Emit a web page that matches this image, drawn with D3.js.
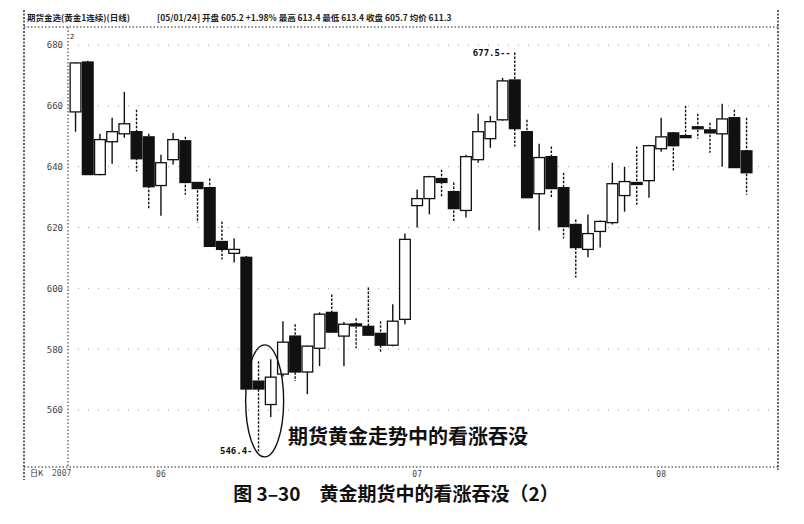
<!DOCTYPE html>
<html><head><meta charset="utf-8">
<script src="https://cdn.jsdelivr.net/npm/d3@7"></script>
<style>body{margin:0;background:#fff}</style>
</head><body>
<svg id="c" width="804" height="524"></svg>
<script>
const openV  = [658,674.4,637.4,648.2,650.8,651.5,649.8,633.8,642.3,648.5,634.8,633.1,615.4,611.5,610.2,569.5,561.8,571.8,584.3,572.5,580.3,592.1,584.3,588.3,587.5,585.2,581.3,589.8,627.2,629.5,636.1,631.8,625.6,642.3,649.2,655.4,668.5,651.5,631.1,643.3,633.1,621,612.8,618.7,621.6,630.5,634.8,635.4,645.9,651.1,650.2,653.1,652.1,650.8,656.1,645.2];
const highV  = [674.4,674.8,650.8,656.1,664.6,658.7,650.8,643.9,651.1,649.8,634.9,636.1,622,616.4,610.6,576,576.7,589.2,588.2,581.2,592.1,598,588.9,590.2,600.3,589.2,594.8,618,632.5,637,639,634.8,643.9,657.4,656.7,669.2,677.5,655.4,647.5,646.6,638,622.6,624.3,622.3,641.3,640,646.6,647.2,656.1,651.4,660,657.4,654.4,660.7,658.7,656.1];
const lowV   = [651.5,637.4,637.2,641,649.5,638.4,625.9,623.9,640.7,630.8,621.6,613.8,609.5,608.5,566.9,546.4,557.7,571,569.5,565.2,574.4,585.6,574.4,580.3,584.6,579,581,588.2,620,624.3,629.8,622,623.3,641.3,646.2,655.1,646.6,629.8,619,629.8,616.4,603.6,610.2,613.4,621,625.2,627.5,629.8,644.9,638.4,649.5,649.2,644.6,640,639.7,630.8];
const closeV = [674.1,637.4,648.9,651.5,654.1,642.6,633.4,641.3,648.9,634.8,632.8,613.8,612.8,612.8,566.9,566.9,570.8,582.3,572.5,581,591.5,585.6,588.2,587.9,584.6,581.3,589.2,616.1,629.5,636.7,634.8,626.2,643.3,651.5,654.8,668.2,652.5,629.8,643,632.8,620.3,613.4,618,622,634.4,635.1,634.4,646.9,649.8,646.9,649.8,652.8,651.1,655.7,639.7,638];
const days = d3.range(1, openV.length + 1);
const yTicks = [680,660,640,620,600,580,560];
const monthTickDays = [8, 29, 49];
const monthLabels = ["06","07","08"];
const headerLeft = "期货金选(黄金1连续)(日线)";
const headerInfo = "[05/01/24] 开盘 605.2 +1.98% 最高 613.4 最低 613.4 收盘 605.7 均价 611.3";
const caption = "图 3–30　黄金期货中的看涨吞没（2）";
const note = "期货黄金走势中的看涨吞没";

const svg = d3.select("#c");
const x = d3.scaleBand().domain(days).range([68.7, 753.4]).padding(0.12);
const y = d3.scaleLinear().domain([560, 680]).range([410, 45]);
const L = 24, R = 778, T = 27, B = 467, AX = 68;

const dotted = (x1,y1,x2,y2,dash,w,col) => svg.append("line").attr("x1",x1).attr("y1",y1).attr("x2",x2).attr("y2",y2)
  .attr("stroke",col||"#222").attr("stroke-width",w||1).attr("stroke-dasharray",dash||"1.5,2");

// frame
dotted(L,10,L,480,"2,1.5",1.4);
dotted(R,10,R,470,"2,1.5",1.4);
dotted(L,T,R,T,"1.5,2",1);
dotted(L,B,R,B,"1.5,2",1);
dotted(AX,T,AX,B,"1.5,2",1);

// grid
yTicks.forEach(v => dotted(AX, y(v), R, y(v), "1,9", 1, "#999"));

// y axis labels
const yAxis = d3.axisLeft(y).tickValues(yTicks).tickSize(0).tickPadding(5).tickFormat(d3.format("d"));
const ga = svg.append("g").attr("transform",`translate(${AX},0)`).call(yAxis);
ga.select(".domain").remove();
ga.selectAll("text").attr("font-family","DejaVu Sans Mono").attr("font-size",9).attr("fill","#444");

// x axis labels
const xa = svg.append("g").attr("transform",`translate(0,${B})`)
  .call(d3.axisBottom(x).tickValues(monthTickDays).tickSize(0).tickPadding(4).tickFormat((d,i)=>monthLabels[i]));
xa.select(".domain").remove();
xa.selectAll("text").attr("font-family","DejaVu Sans Mono").attr("font-size",8).attr("fill","#444");
svg.append("text").attr("x",30).attr("y",476).attr("font-family","Noto Sans CJK SC").attr("font-size",8).attr("fill","#333").text("日K");
svg.append("text").attr("x",52).attr("y",476).attr("font-family","DejaVu Sans Mono").attr("font-size",8).attr("fill","#555").text("2007");

// header
svg.append("text").attr("x",27).attr("y",21).attr("font-family","Noto Sans CJK SC").attr("font-size",8.5).attr("font-weight","bold").attr("fill","#222").text(headerLeft);
svg.append("text").attr("x",157).attr("y",21).attr("font-family","Noto Sans CJK SC").attr("font-size",8.5).attr("font-weight","bold").attr("fill","#222").text(headerInfo);
svg.append("text").attr("x",70).attr("y",39).attr("font-family","DejaVu Sans Mono").attr("font-size",7).attr("fill","#222").text("2");

// candles
const data = days.map((d,i)=>({d,o:openV[i],h:highV[i],l:lowV[i],c:closeV[i]}));
const bw = x.bandwidth();
const g = svg.append("g");
data.forEach(p => {
  const cx = x(p.d) + bw/2;
  const up = p.c >= p.o;
  g.append("line").attr("x1",cx).attr("x2",cx).attr("y1",y(p.h)).attr("y2",y(p.l))
    .attr("stroke","#111").attr("stroke-width",1.4).attr("stroke-dasharray", up ? null : "2.5,1.5");
  const top = y(Math.max(p.o,p.c)), bot = y(Math.min(p.o,p.c));
  const hgt = Math.max(bot - top, 2);
  g.append("rect").attr("x",x(p.d)).attr("y",top).attr("width",bw).attr("height",hgt)
    .attr("fill", up ? "#fff" : "#111").attr("stroke","#111").attr("stroke-width",1.3);
});

// annotations for extremes
const hiIdx = d3.maxIndex(highV), loIdx = d3.minIndex(lowV);
const hx = x(days[hiIdx]) + bw/2, lx = x(days[loIdx]) + bw/2;
svg.append("text").attr("x",hx-4).attr("y",y(highV[hiIdx])+3).attr("text-anchor","end")
  .attr("font-family","DejaVu Sans Mono").attr("font-size",9).attr("font-weight","bold").attr("fill","#111").text(d3.format(".1f")(highV[hiIdx])+"--");
svg.append("text").attr("x",lx-6).attr("y",y(lowV[loIdx])+3).attr("text-anchor","end")
  .attr("font-family","DejaVu Sans Mono").attr("font-size",9).attr("font-weight","bold").attr("fill","#111").text(d3.format(".1f")(lowV[loIdx])+"-");

// ellipse around engulfing pattern
const ex = (x(days[15]) + x(days[16]) + bw) / 2;
svg.append("ellipse").attr("cx",ex).attr("cy",y(563)).attr("rx",19).attr("ry",56)
  .attr("fill","none").attr("stroke","#111").attr("stroke-width",1.4);

svg.append("text").attr("x",288).attr("y",444).attr("font-family","Noto Sans CJK SC").attr("font-size",20).attr("font-weight","bold").attr("fill","#111").text(note);

// caption
svg.append("text").attr("x",396).attr("y",501).attr("text-anchor","middle").attr("font-family","Noto Sans CJK SC").attr("font-size",19).attr("font-weight","bold").attr("fill","#111").text(caption);
</script>
</body></html>
